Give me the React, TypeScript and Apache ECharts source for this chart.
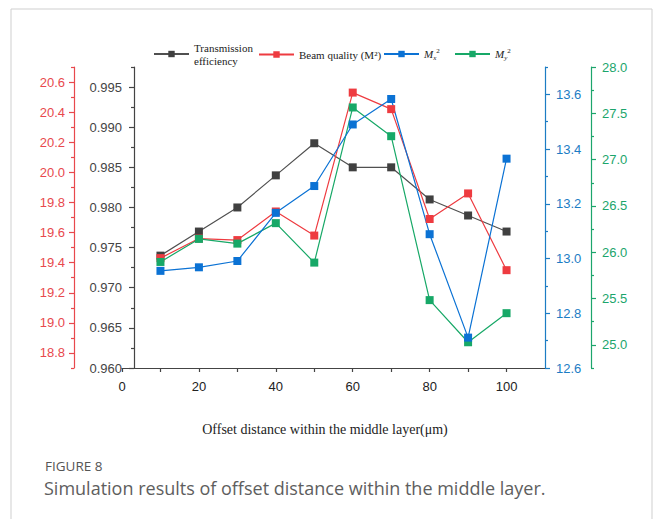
import React, { useEffect, useRef } from "react";
import * as echarts from "echarts";

// ---- data ----
const offsets = [10, 20, 30, 40, 50, 60, 70, 80, 90, 100];
const transmission = [0.974, 0.977, 0.98, 0.984, 0.988, 0.985, 0.985, 0.981, 0.979, 0.977];
const beamQuality = [19.43, 19.56, 19.55, 19.74, 19.58, 20.53, 20.42, 19.69, 19.86, 19.35];
const mx2 = [12.955, 12.968, 12.991, 13.167, 13.265, 13.49, 13.583, 13.089, 12.711, 13.365];
const my2 = [25.895, 26.144, 26.093, 26.314, 25.888, 27.563, 27.253, 25.483, 25.028, 25.342];

// ---- ticks ----
const xTicks = [0, 10, 20, 30, 40, 50, 60, 70, 80, 90, 100];
const xLabels = [0, 20, 40, 60, 80, 100];
const transMajor = [0.96, 0.965, 0.97, 0.975, 0.98, 0.985, 0.99, 0.995];
const transMinor = [0.9625, 0.9675, 0.9725, 0.9775, 0.9825, 0.9875, 0.9925, 0.9975];
const beamMajor = [18.8, 19.0, 19.2, 19.4, 19.6, 19.8, 20.0, 20.2, 20.4, 20.6];
const beamMinor = [18.7, 18.9, 19.1, 19.3, 19.5, 19.7, 19.9, 20.1, 20.3, 20.5, 20.7];
const mxMajor = [12.6, 12.8, 13.0, 13.2, 13.4, 13.6];
const mxMinor = [12.7, 12.9, 13.1, 13.3, 13.5, 13.7];
const myMajor = [25.0, 25.5, 26.0, 26.5, 27.0, 27.5, 28.0];
const myMinor = [24.75, 25.25, 25.75, 26.25, 26.75, 27.25, 27.75];

const names = ["Transmission\nefficiency", "Beam quality (M²)", "Mx2", "My2"];

const C_BLACK = "#404040";
const C_RED = "#ee3b40";
const C_BLUE = "#0b72d4";
const C_GREEN = "#17a867";
const AX_BLACK = "#444444";
const AX_RED = "#e8484d";
const AX_BLUE = "#1c7cc4";
const AX_GREEN = "#1ca56c";

const SANS = "'Liberation Sans', Arial, sans-serif";
const SERIF = "'Liberation Serif', 'Times New Roman', serif";

function makeAxis(
  position: "left" | "right",
  offset: number,
  min: number,
  max: number,
  major: number[],
  color: string,
  labelColor: string,
  digits: number,
  margin: number
) {
  return {
    type: "value",
    position,
    offset,
    min,
    max,
    splitLine: { show: false },
    axisLine: { show: true, onZero: false, lineStyle: { color, width: 1.2 } },
    axisTick: { show: true, customValues: major, length: 5, lineStyle: { color, width: 1.2 } },
    axisLabel: {
      show: true,
      customValues: major,
      color: labelColor,
      fontSize: 13,
      fontFamily: SANS,
      margin,
      formatter: (v: number) => Number(v).toFixed(digits),
    },
  };
}

function makeMinor(
  position: "left" | "right",
  offset: number,
  min: number,
  max: number,
  minor: number[],
  color: string
) {
  return {
    type: "value",
    position,
    offset,
    min,
    max,
    splitLine: { show: false },
    axisLine: { show: false },
    axisLabel: { show: false },
    axisTick: { show: true, customValues: minor, length: 3, lineStyle: { color, width: 1.2 } },
  };
}

function lineSeries(name: string, values: number[], yAxisIndex: number, color: string, lineColor: string) {
  return {
    name,
    type: "line",
    yAxisIndex,
    data: offsets.map((x, i) => [x, values[i]]),
    symbol: "rect",
    symbolSize: 8,
    lineStyle: { color: lineColor, width: 1.2 },
    itemStyle: { color },
  };
}

const legendRich = {
  t: { fontFamily: SERIF, fontSize: 11, color: "#222", lineHeight: 13 },
  m: { fontFamily: SERIF, fontSize: 11, fontStyle: "italic", color: "#222", lineHeight: 14 },
  sp: { fontFamily: SERIF, fontSize: 7, color: "#222", verticalAlign: "top", lineHeight: 14 },
  sb: { fontFamily: SERIF, fontSize: 7, fontStyle: "italic", color: "#222", verticalAlign: "bottom", lineHeight: 14 },
};

function legendFormatter(name: string) {
  if (name === "Mx2") return "{m|M}{sb|x}{sp|2}";
  if (name === "My2") return "{m|M}{sb|y}{sp|2}";
  return name;
}

function makeLegend(name: string, left: number, top: number) {
  return {
    data: [name],
    left,
    top,
    itemWidth: 35,
    itemHeight: 8,
    itemGap: 0,
    padding: 0,
    formatter: legendFormatter,
    textStyle: { fontFamily: SERIF, fontSize: 11, color: "#222", lineHeight: 13, rich: legendRich },
  };
}

export default function App() {
  const ref = useRef<HTMLDivElement>(null);
  useEffect(() => {
    if (!ref.current) return;
    const chart = echarts.init(ref.current, undefined, { renderer: "svg" });
    chart.setOption({
      animation: false,
      backgroundColor: "#ffffff",
      grid: { left: 122, right: 109, top: 67, bottom: 151 },
      legend: [
        makeLegend(names[0], 153, 41),
        makeLegend(names[1], 258, 48),
        makeLegend(names[2], 383, 47),
        makeLegend(names[3], 454, 47),
      ],
      xAxis: {
        type: "value",
        min: 0,
        max: 110,
        splitLine: { show: false },
        axisLine: { show: true, onZero: false, lineStyle: { color: AX_BLACK, width: 1.2 } },
        axisTick: { show: true, customValues: xTicks, length: 4, lineStyle: { color: AX_BLACK, width: 1.2 } },
        axisLabel: { customValues: xLabels, color: "#222", fontSize: 13, fontFamily: SANS, margin: 12 },
      },
      yAxis: [
        makeAxis("left", -12, 0.96, 0.9975, transMajor, AX_BLACK, "#444", 3, 12),
        makeAxis("left", 48, 18.7, 20.7, beamMajor, AX_RED, AX_RED, 1, 9),
        makeAxis("right", 0, 12.6, 13.7, mxMajor, AX_BLUE, AX_BLUE, 1, 11),
        makeAxis("right", 46, 24.75, 28.0, myMajor, AX_GREEN, AX_GREEN, 1, 11),
        makeMinor("left", -12, 0.96, 0.9975, transMinor, AX_BLACK),
        makeMinor("left", 48, 18.7, 20.7, beamMinor, AX_RED),
        makeMinor("right", 0, 12.6, 13.7, mxMinor, AX_BLUE),
        makeMinor("right", 46, 24.75, 28.0, myMinor, AX_GREEN),
      ],
      series: [
        lineSeries(names[0], transmission, 0, C_BLACK, "#505050"),
        lineSeries(names[1], beamQuality, 1, C_RED, C_RED),
        lineSeries(names[3], my2, 3, C_GREEN, C_GREEN),
        lineSeries(names[2], mx2, 2, C_BLUE, C_BLUE),
      ],
      graphic: [
        {
          type: "rect",
          shape: { x: 11, y: 9, width: 641, height: 530 },
          style: { fill: "none", stroke: "#cfcfcf", lineWidth: 1 },
          silent: true,
        },
        {
          type: "text",
          x: 325,
          y: 429,
          style: {
            text: "Offset distance within the middle layer(μm)",
            font: `14px ${SERIF}`,
            fill: "#222",
            textAlign: "center",
            textVerticalAlign: "middle",
          },
        },
        {
          type: "text",
          x: 45,
          y: 466,
          style: {
            text: "FIGURE 8",
            font: `13.5px 'Open Sans', sans-serif`,
            fill: "#555",
            textAlign: "left",
            textVerticalAlign: "middle",
          },
        },
        {
          type: "text",
          x: 44,
          y: 488,
          style: {
            text: "Simulation results of offset distance within the middle layer.",
            font: `18px 'Open Sans', sans-serif`,
            fill: "#5e5e5e",
            textAlign: "left",
            textVerticalAlign: "middle",
          },
        },
      ],
    });
    return () => chart.dispose();
  }, []);
  return (
    <div
      ref={ref}
      style={{ position: "fixed", left: 0, top: 0, width: 654, height: 519, background: "#fff" }}
    />
  );
}
